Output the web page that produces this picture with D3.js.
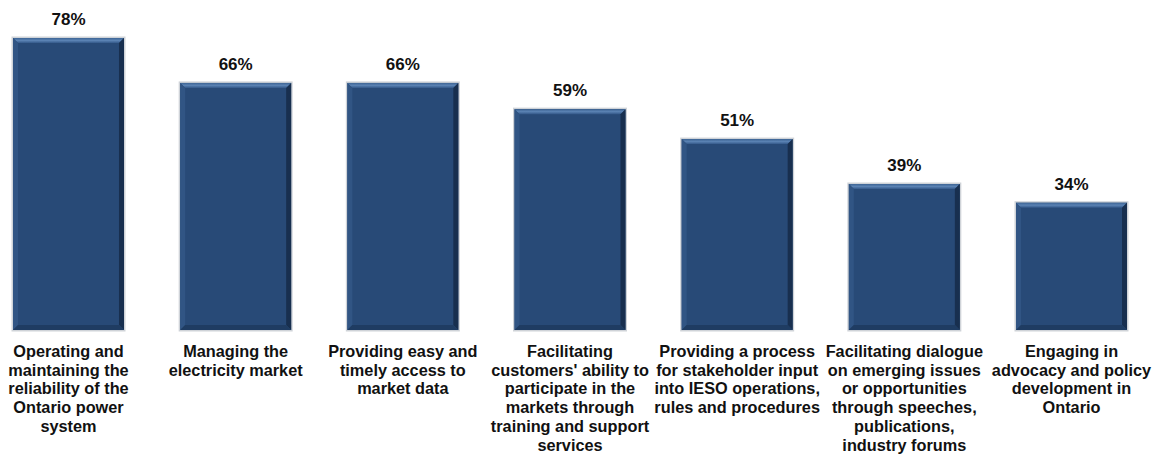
<!DOCTYPE html>
<html>
<head>
<meta charset="utf-8">
<script src="https://cdn.jsdelivr.net/npm/d3@7"></script>
<style>
  html, body { margin: 0; padding: 0; background: #ffffff; }
  svg { display: block; }
  text { font-family: Arial, "Liberation Sans", sans-serif; font-weight: bold; fill: #111; }
</style>
</head>
<body>
<svg id="chart" width="1156" height="456"></svg>
<script>
// Survey results: share of respondents rating each role as important
const categories = [
  ["Operating and", "maintaining the", "reliability of the", "Ontario power", "system"],
  ["Managing the", "electricity market"],
  ["Providing easy and", "timely access to", "market data"],
  ["Facilitating", "customers' ability to", "participate in the", "markets through", "training and support", "services"],
  ["Providing a process", "for stakeholder input", "into IESO operations,", "rules and procedures"],
  ["Facilitating dialogue", "on emerging issues", "or opportunities", "through speeches,", "publications,", "industry forums"],
  ["Engaging in", "advocacy and policy", "development in", "Ontario"]
];
const values = [78, 66, 66, 59, 51, 39, 34];
const valueLabels = ["78%", "66%", "66%", "59%", "51%", "39%", "34%"];

const width = 1156, height = 456;
const baseline = 330;

const svg = d3.select("#chart");

const x = d3.scaleBand()
  .domain(d3.range(values.length))
  .range([13, 1127])
  .paddingInner(0.336)
  .paddingOuter(0);

const y = d3.scaleLinear()
  .domain([0, 78])
  .range([baseline, 38]);

const bw = x.bandwidth();
const bev = 5;

const defs = svg.append("defs");
const topGrad = defs.append("linearGradient")
  .attr("id", "topBevel").attr("x1", 0).attr("y1", 0).attr("x2", 0).attr("y2", 1);
topGrad.append("stop").attr("offset", 0).attr("stop-color", "#3d6494");
topGrad.append("stop").attr("offset", 0.5).attr("stop-color", "#5a82b3");
topGrad.append("stop").attr("offset", 1).attr("stop-color", "#34598a");

const bars = svg.append("g")
  .selectAll("g")
  .data(values)
  .join("g")
  .attr("transform", (d, i) => `translate(${x(i)},0)`);

// soft grey outline around each bar
bars.append("rect")
  .attr("x", -1.5)
  .attr("y", d => y(d) - 1.5)
  .attr("width", bw + 3)
  .attr("height", d => baseline - y(d) + 3)
  .attr("fill", "#cfd3d8");

// bar body
bars.append("rect")
  .attr("x", 0)
  .attr("y", d => y(d))
  .attr("width", bw)
  .attr("height", d => baseline - y(d))
  .attr("fill", "#284a77");

// bevel: top highlight
bars.append("polygon")
  .attr("points", d => {
    const t = y(d);
    return [[0, t], [bw, t], [bw - bev, t + bev], [bev, t + bev]].join(" ");
  })
  .attr("fill", "url(#topBevel)");

// bevel: left edge
bars.append("polygon")
  .attr("points", d => {
    const t = y(d);
    return [[0, t], [bev, t + bev], [bev, baseline - bev], [0, baseline]].join(" ");
  })
  .attr("fill", "#315584");

// bevel: right edge
bars.append("polygon")
  .attr("points", d => {
    const t = y(d);
    return [[bw, t], [bw, baseline], [bw - bev, baseline - bev], [bw - bev, t + bev]].join(" ");
  })
  .attr("fill", "#182f4f");

// bevel: bottom edge
bars.append("polygon")
  .attr("points", () => [[0, baseline], [bw, baseline], [bw - bev, baseline - bev], [bev, baseline - bev]].join(" "))
  .attr("fill", "#1f3c62");

// value labels above bars
svg.append("g")
  .selectAll("text")
  .data(values)
  .join("text")
  .attr("x", (d, i) => x(i) + bw / 2)
  .attr("y", d => y(d) - 13)
  .attr("text-anchor", "middle")
  .attr("font-size", 17)
  .text((d, i) => valueLabels[i]);

// category labels under bars
const cat = svg.append("g")
  .selectAll("text")
  .data(categories)
  .join("text")
  .attr("x", (d, i) => x(i) + bw / 2)
  .attr("y", 357)
  .attr("text-anchor", "middle")
  .attr("font-size", 16.3);

cat.selectAll("tspan")
  .data(d => d)
  .join("tspan")
  .attr("x", function () { return this.parentNode.getAttribute("x"); })
  .attr("dy", (d, j) => j === 0 ? 0 : 18.7)
  .text(d => d);
</script>
</body>
</html>
